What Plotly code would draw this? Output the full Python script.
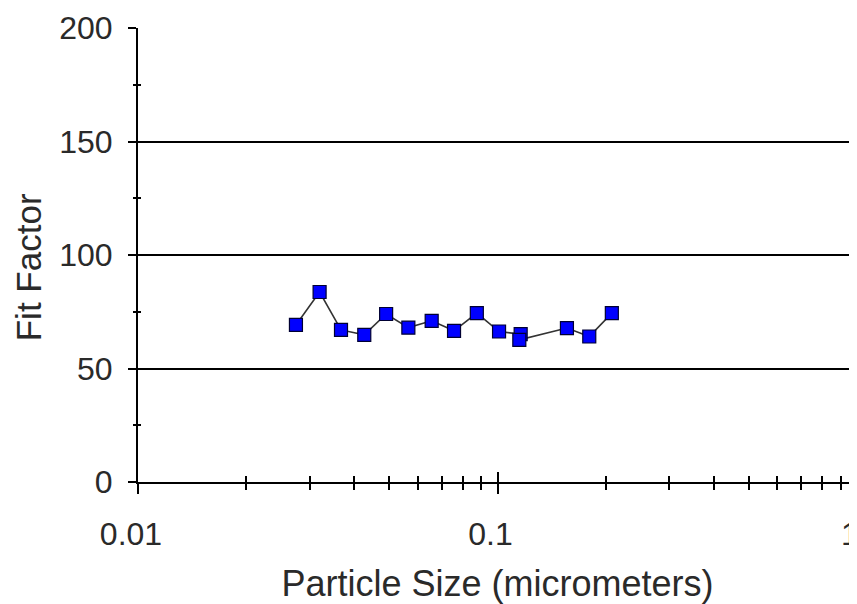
import plotly.graph_objects as go

# Data
particle_size = [0.0275, 0.0320, 0.0367, 0.0426, 0.0490, 0.0565, 0.0656, 0.0757,
                 0.0876, 0.101, 0.116, 0.115, 0.156, 0.180, 0.208]
fit_factor = [69.2, 83.7, 67.0, 64.8, 74.0, 68.0, 71.0, 66.6,
              74.4, 66.3, 65.1, 62.6, 67.8, 64.1, 74.4]

x_tickvals = [0.01, 0.1, 1]
x_ticktext = ["0.01", "0.1", "1"]
x_minor_vals = [0.02, 0.03, 0.04, 0.05, 0.06, 0.07, 0.08, 0.09,
                0.2, 0.3, 0.4, 0.5, 0.6, 0.7, 0.8, 0.9]
y_tickvals = [0, 50, 100, 150, 200]
y_minor_vals = [25, 75, 125, 175]

FONT = "Liberation Sans, Arial, sans-serif"
TXT = "#2a2a2a"

fig = go.Figure()
fig.add_trace(go.Scatter(
    x=particle_size, y=fit_factor, mode="lines+markers",
    line=dict(color="#333333", width=1.6),
    marker=dict(symbol="square", size=13, color="#0000FF",
                line=dict(color="#000033", width=1.2)),
    showlegend=False,
))
fig.add_trace(go.Scatter(x=[], y=[], xaxis="x2", yaxis="y2", showlegend=False))

fig.update_layout(
    width=857, height=604,
    margin=dict(l=130, r=8, t=20, b=130),
    paper_bgcolor="white", plot_bgcolor="white",
    font=dict(family=FONT, color=TXT),
    xaxis=dict(
        type="log", range=[-2, 0], automargin=False,
        tickvals=x_tickvals, ticktext=x_ticktext,
        ticks="outside", ticklen=10, tickwidth=2, tickcolor="black",
        minor=dict(tickmode="array", tickvals=x_minor_vals, ticks="outside",
                   ticklen=6, tickwidth=2, tickcolor="black", showgrid=False),
        showline=True, linecolor="black", linewidth=2,
        showgrid=False, zeroline=False,
        tickfont=dict(size=32, color=TXT, family=FONT),
        ticklabelstandoff=13, ticklabelshift=-7, ticklabeloverflow="allow",
        title=dict(text="Particle Size (micrometers)", font=dict(size=36, color=TXT, family=FONT), standoff=19),
    ),
    yaxis=dict(
        range=[0, 200], tickvals=y_tickvals, automargin=False,
        ticks="outside", ticklen=8, tickwidth=2, tickcolor="black",
        minor=dict(tickmode="array", tickvals=y_minor_vals, ticks="outside",
                   ticklen=3, tickwidth=2, tickcolor="black", showgrid=False),
        showline=True, linecolor="black", linewidth=2,
        showgrid=True, gridcolor="black", gridwidth=2,
        zeroline=False,
        tickfont=dict(size=32, color=TXT, family=FONT),
        ticklabelstandoff=9,
    ),
    xaxis2=dict(
        type="log", range=[-2, 0], overlaying="x", anchor="y2", side="bottom",
        tickvals=x_tickvals, showticklabels=False,
        ticks="inside", ticklen=10, tickwidth=2, tickcolor="black",
        minor=dict(tickmode="array", tickvals=x_minor_vals, ticks="inside",
                   ticklen=6, tickwidth=2, tickcolor="black", showgrid=False),
        showline=False, showgrid=False, zeroline=False,
    ),
    yaxis2=dict(
        range=[0, 200], overlaying="y", anchor="x2", side="left",
        tickvals=y_tickvals, showticklabels=False,
        ticks="inside", ticklen=9, tickwidth=2, tickcolor="black",
        minor=dict(tickmode="array", tickvals=y_minor_vals, ticks="inside",
                   ticklen=3, tickwidth=2, tickcolor="black", showgrid=False),
        showline=False, showgrid=False, zeroline=False,
    ),
    annotations=[dict(
        text="Fit Factor", textangle=-90, showarrow=False,
        xref="paper", yref="paper", x=0, y=0.473, xanchor="center", yanchor="middle",
        xshift=-110, font=dict(size=35, color=TXT, family=FONT),
    )],
)

fig.write_html("out.html")
